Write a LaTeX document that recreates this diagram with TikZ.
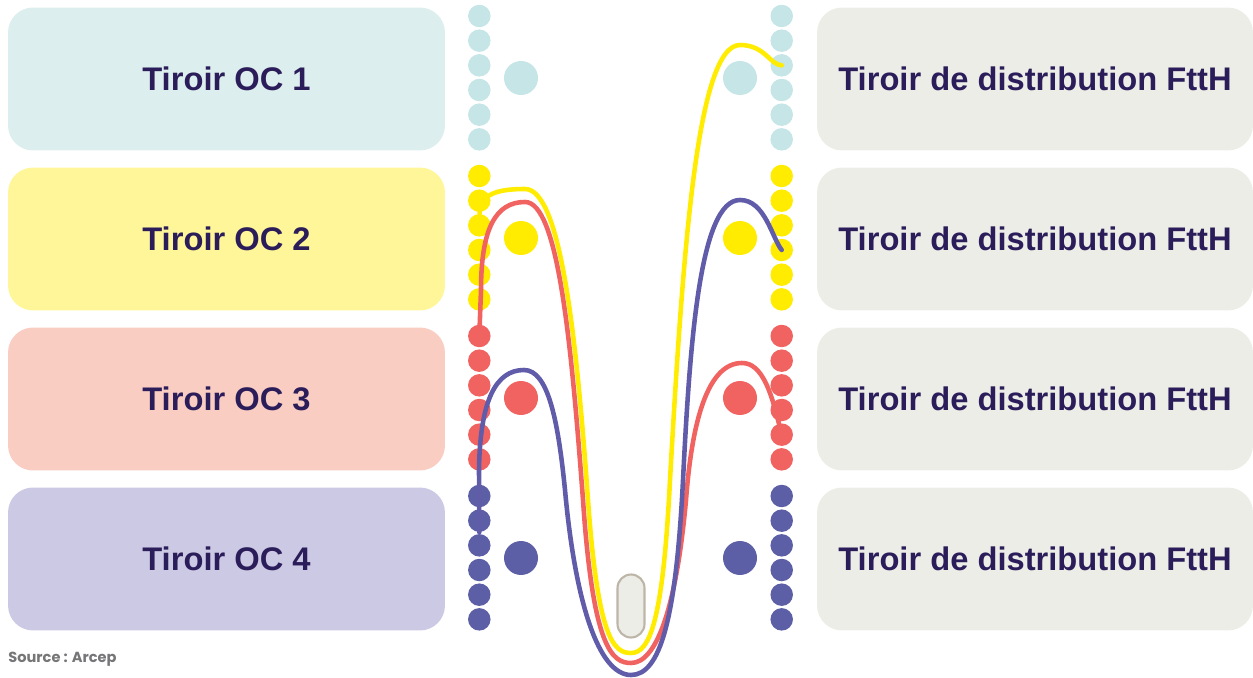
\documentclass[tikz,border=0pt]{standalone}
\usepackage{fontspec}
\setmainfont{Liberation Sans}
\newfontfamily\srcfont{Poppins}
\usetikzlibrary{calc}
\definecolor{ink}{RGB}{43,29,89}
\definecolor{mist}{RGB}{220,238,237}
\definecolor{ice}{RGB}{197,229,230}
\definecolor{cream}{RGB}{255,246,154}
\definecolor{lemon}{RGB}{255,236,0}
\definecolor{blush}{RGB}{250,205,195}
\definecolor{coral}{RGB}{240,99,97}
\definecolor{lilac}{RGB}{204,201,228}
\definecolor{indigo}{RGB}{92,95,166}
\definecolor{wire}{RGB}{96,92,170}
\definecolor{stone}{RGB}{237,237,232}
\definecolor{pebble}{RGB}{189,181,168}
\definecolor{slate}{RGB}{118,118,120}
\tikzset{
  drawer/.style={fill=#1,rounded corners=0.5cm,minimum width=8.74cm,minimum height=2.86cm,
    text=ink,font=\fontsize{18.6}{22}\selectfont\bfseries},
  drawer/.default=stone,
  port/.style={circle,fill=#1,inner sep=0pt,minimum size=0.45cm},
  hub/.style={circle,fill=#1,inner sep=0pt,minimum size=0.68cm},
  cable/.style={draw=#1,line width=2.6pt,line cap=round},
  cable/.default=lemon,
  tag/.style={font=\srcfont\bfseries\fontsize{8.3}{9}\selectfont,text=slate,anchor=base west,inner sep=0pt},
}
\begin{document}
\begin{tikzpicture}[x=0.02cm,y=-0.02cm]
  \useasboundingbox (0,0) rectangle (1253,678);
  \foreach \r/\pale/\deep in {1/mist/ice,2/cream/lemon,3/blush/coral,4/lilac/indigo}{
    \node[drawer=\pale] (oc\r) at (226.5,{79+160*(\r-1)}) {Tiroir OC \r};
    \node[drawer,minimum width=8.72cm] (ftth\r) at (1035,{79+160*(\r-1)}) {Tiroir de distribution FttH};
    \node[hub=\deep] (hl\r) at (521,{78+160*(\r-1)}) {};
    \node[hub=\deep] (hr\r) at (740,{78+160*(\r-1)}) {};
    \foreach \s in {1,...,6}{
      \node[port=\deep] (l\r-\s) at (479.3,{16+160*(\r-1)+24.67*(\s-1)}) {};
      \node[port=\deep] (r\r-\s) at (781.7,{16+160*(\r-1)+24.67*(\s-1)}) {};
    }
  }
  \node[draw=pebble,fill=stone,line width=1.2pt,rounded corners=0.27cm,
    minimum width=0.54cm,minimum height=1.26cm] (loop) at (631,606) {};
  % jumpers
  \draw[cable=lemon] (l2-3) .. controls (480,195) and (495,189) .. (525,189)
    .. controls (560,189) and (576,330) .. (588,500)
    .. controls (598,640) and (614,653) .. (631,653)
    .. controls (650,653) and (663,620) .. (670,480)
    .. controls (683,250) and (697,45) .. (740,45)
    .. controls (765,45) and (770,65) .. (r1-3.center);
  \draw[cable=coral] (l3-1.center) -- (481,290)
    .. controls (481,228) and (496,202) .. (525,202)
    .. controls (558,202) and (571,340) .. (583,500)
    .. controls (593,648) and (612,663) .. (631,663)
    .. controls (656,663) and (676,610) .. (686,500)
    .. controls (692,420) and (708,363) .. (742,363)
    .. controls (762,363) and (771,392) .. (r3-5);
  \draw[cable=wire] (l4-2.south) -- (479,470)
    .. controls (480,400) and (496,370) .. (524,370)
    .. controls (548,370) and (558,420) .. (565,490)
    .. controls (575,600) and (598,675) .. (631,675)
    .. controls (660,675) and (676,620) .. (683,480)
    .. controls (690,340) and (700,200) .. (740,200)
    .. controls (765,200) and (772,238) .. (r2-4.center);
  \node[tag] (src) at (8,662) {Source : Arcep};
\end{tikzpicture}
\end{document}
